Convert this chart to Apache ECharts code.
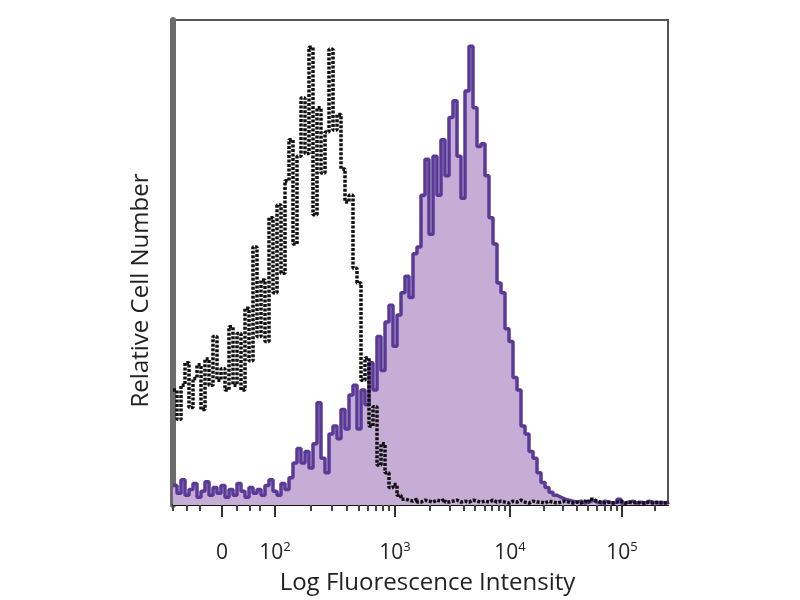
<!DOCTYPE html>
<html>
<head>
<meta charset="utf-8">
<title>Relative Cell Number vs Log Fluorescence Intensity</title>
<script src="https://cdn.jsdelivr.net/npm/echarts@6/dist/echarts.min.js"></script>
<style>
    html, body {margin: 0; padding: 0; background: #fff;}
    #chart {width: 800px; height: 600px;}
</style>
</head>
<body>
<div id="chart"></div>
<script>
// histogram bin width, in display channels
const binWidth = 4;

// isotype control (black dotted), counts per bin
const controlCounts = [
    118, 88, 123, 146, 100, 130, 144, 98, 150, 123,
    173, 128, 140, 118, 183, 123, 176, 118, 202, 148,
    265, 173, 231, 168, 295, 218, 308, 238, 333, 375,
    268, 358, 418, 361, 470, 298, 408, 341, 383, 468,
    385, 401, 345, 311, 318, 243, 228, 128, 151, 81,
    101, 41, 63, 33, 18, 21, 10, 6,
    5, 4, 6, 3, 5, 4, 3, 5, 4, 6,
    3, 4, 5, 3, 4, 3, 5, 4, 3, 4,
    3, 5, 3, 4, 3, 2, 4, 3, 5, 3,
    2, 4, 3, 3, 2, 4, 3, 2, 3, 4,
    3, 2, 3, 2, 4, 3, 6, 4, 3, 2,
    3, 2, 3, 4, 2, 3, 2, 3, 2, 2,
    3, 2, 3, 2, 2, 3
];

// stained sample (purple, filled), counts per bin
const stainedCounts = [
    20, 12, 26, 10, 16, 22, 8, 14, 24, 10,
    18, 12, 20, 8, 16, 10, 22, 14, 8, 18,
    12, 16, 10, 20, 26, 14, 10, 22, 16, 28,
    43, 58, 43, 55, 38, 63, 105, 48, 33, 73,
    81, 68, 98, 78, 113, 123, 78, 118, 103, 146,
    118, 173, 138, 188, 205, 163, 195, 218, 235, 213,
    258, 265, 318, 355, 278, 358, 318, 375, 338, 398,
    415, 358, 315, 425, 471, 408, 368, 371, 338, 295,
    268, 228, 218, 181, 168, 131, 118, 81, 73, 55,
    48, 33, 23, 18, 13, 10, 8, 6,
    5, 4, 3, 4, 2, 3, 5, 3, 2, 4,
    3, 2, 3, 6, 2, 3, 4, 2, 3, 2,
    4, 3, 2, 3, 2, 3
];

// biexponential axis: labelled decades and minor ticks, in display channels
const majorTicks = [49, 102, 222, 337, 449];
const majorLabels = ['{s| }0{s| }', '10{s|2}', '10{s|3}', '10{s|4}', '10{s|5}'];
const minorTicks = [
    0, 14, 27, 64, 77, 87,
    138, 159, 174, 186, 195, 203, 210, 216,
    257, 277, 291, 302, 312, 319, 326, 332,
    371, 390, 404, 415, 424, 432, 438, 444,
    482
];

const channelMax = 495;
const countMax = 498;

function toSteps(counts) {
    let pts = counts.map((c, i) => [i * binWidth, c]);
    pts.push([counts.length * binWidth, counts[counts.length - 1]]);
    return pts;
}

const font = 'Open Sans';
const chart = echarts.init(document.getElementById('chart'));

chart.setOption({
    animation: false,
    grid: {
        left: 173, right: 132, top: 20, bottom: 82,
        show: true, borderColor: '#555', borderWidth: 2
    },
    xAxis: [
        {
            type: 'value', min: 0, max: channelMax,
            name: 'Log Fluorescence Intensity',
            nameLocation: 'middle', nameGap: 66,
            nameTextStyle: {fontFamily: font, fontSize: 24, color: '#222', padding: [0, 0, 0, 14]},
            axisLine: {lineStyle: {color: '#111', width: 2}},
            splitLine: {show: false},
            axisTick: {length: 12, lineStyle: {color: '#333', width: 2}, customValues: majorTicks},
            axisLabel: {
                customValues: majorTicks,
                margin: 36,
                formatter: v => majorLabels[majorTicks.indexOf(v)] || '',
                fontFamily: font, fontSize: 21, color: '#222',
                rich: {
                    s: {fontFamily: font, fontSize: 13, color: '#222', padding: [0, 0, 12, 0]}
                }
            }
        },
        {
            type: 'value', min: 0, max: channelMax, position: 'bottom',
            axisLine: {show: false},
            splitLine: {show: false},
            axisTick: {length: 6, lineStyle: {color: '#444', width: 2}, customValues: minorTicks},
            axisLabel: {show: false}
        }
    ],
    yAxis: {
        type: 'value', min: 0, max: countMax,
        name: 'Relative Cell Number',
        nameLocation: 'middle', nameGap: 20,
        nameTextStyle: {fontFamily: font, fontSize: 24, color: '#222', padding: [0, 56, 0, 0]},
        axisLine: {show: true, lineStyle: {color: '#6b6b6b', width: 6}},
        axisTick: {show: false},
        axisLabel: {show: false},
        splitLine: {show: false}
    },
    series: [
        {
            name: 'Stained',
            type: 'line',
            step: 'end',
            symbol: 'none',
            data: toSteps(stainedCounts),
            lineStyle: {color: '#5a3a96', width: 3.5},
            areaStyle: {color: '#c6add6', opacity: 1},
            z: 2
        },
        {
            name: 'Isotype control',
            type: 'line',
            step: 'end',
            symbol: 'none',
            data: toSteps(controlCounts),
            lineStyle: {color: '#111', width: 3.5, type: [3, 1.5]},
            z: 3
        }
    ]
});
</script>
</body>
</html>
